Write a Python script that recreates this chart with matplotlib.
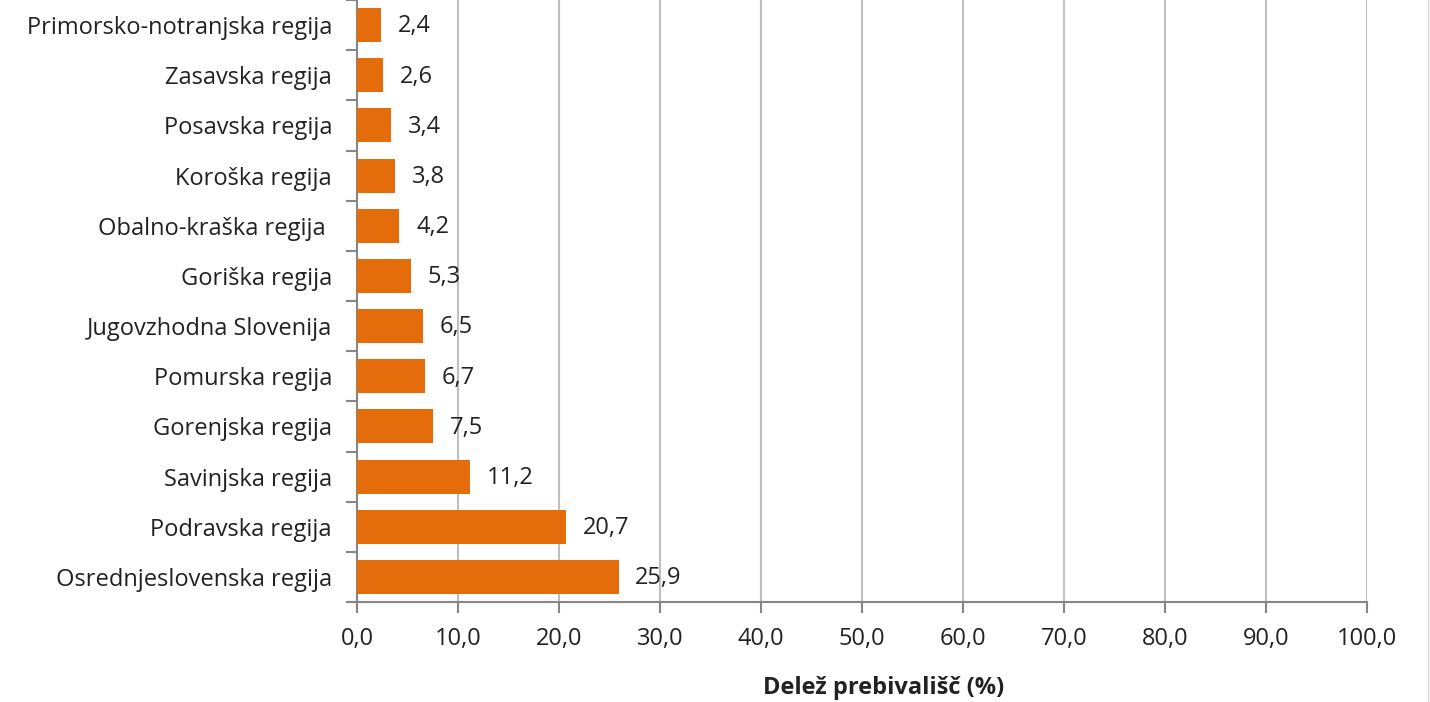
import matplotlib.pyplot as plt
import numpy as np

plt.rcParams['font.family'] = ['Open Sans', 'DejaVu Sans']

# podatki
regije = ["Primorsko-notranjska regija", "Zasavska regija", "Posavska regija",
          "Koroška regija", "Obalno-kraška regija ", "Goriška regija",
          "Jugovzhodna Slovenija", "Pomurska regija", "Gorenjska regija",
          "Savinjska regija", "Podravska regija", "Osrednjeslovenska regija"]
delez = [2.4, 2.6, 3.4, 3.8, 4.2, 5.3, 6.5, 6.7, 7.5, 11.2, 20.7, 25.9]
xticks = [0, 10, 20, 30, 40, 50, 60, 70, 80, 90, 100]

fig = plt.figure(figsize=(14.3, 7.02), dpi=100)
ax = fig.add_axes([357 / 1430, 1 - 602 / 702, 1010 / 1430, 602 / 702])

y = np.arange(len(regije))
ax.barh(y, delez, height=0.68, color='#E46C0A', zorder=3)
for yi, v in zip(y, delez):
    ax.annotate(f"{v:.1f}".replace('.', ','), (v, yi), xytext=(12, -1),
                textcoords='offset points', va='center', ha='left',
                fontsize=17, color='#222222')

ax.set_ylim(len(regije) - 0.5, -0.5)
ax.set_xlim(0, 100)
ax.set_yticks(y)
ax.set_yticklabels(regije, fontsize=17, color='#222222')
ax.set_yticks(np.arange(len(regije) + 1) - 0.5, minor=True)
ax.tick_params(axis='y', which='major', length=0, pad=18)
ax.tick_params(axis='y', which='minor', length=8, width=1.5, color='#868686', direction='out')
ax.set_xticks(xticks)
ax.set_xticklabels([f"{t:.1f}".replace('.', ',') for t in xticks], fontsize=17, color='#222222')
ax.tick_params(axis='x', length=8, width=1.5, color='#868686', pad=10)

ax.grid(axis='x', color='#BFBFBF', linewidth=1.5, zorder=0)
for s in ['top', 'right']:
    ax.spines[s].set_visible(False)
for s in ['left', 'bottom']:
    ax.spines[s].set_color('#868686')
    ax.spines[s].set_linewidth(1.5)

fig.text(884 / 1430, 1 - 688 / 702, "Delež prebivališč (%)", fontsize=17,
         fontweight='bold', color='#222222', ha='center', va='center')

fig.add_artist(plt.Line2D([1428 / 1430, 1428 / 1430], [0, 1], color='#D9D9D9', linewidth=1))

fig.savefig('out.png', dpi=100)
